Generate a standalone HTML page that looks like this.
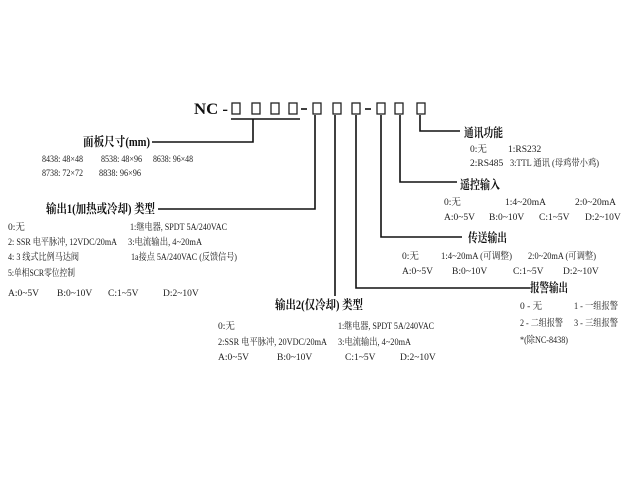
<!DOCTYPE html>
<html><head><meta charset="utf-8"><style>
html,body{margin:0;padding:0;background:#fff;width:640px;height:480px;overflow:hidden}
svg text{font-family:"Liberation Serif","Noto Serif CJK SC",serif;fill:#222;font-size:9.5px}
svg text.b{font-weight:bold;font-size:12.5px;fill:#111}
svg text.h{font-weight:bold;font-size:16px;fill:#111}
</style></head><body>
<svg width="640" height="480" viewBox="0 0 640 480" xmlns="http://www.w3.org/2000/svg">
<g fill="none" stroke="#222" stroke-width="1.3">
<rect x="232" y="103" width="8" height="11"/><rect x="252" y="103" width="8" height="11"/>
<rect x="271" y="103" width="8" height="11"/><rect x="289" y="103" width="8" height="11"/>
<rect x="313" y="103" width="8" height="11"/><rect x="333" y="103" width="8" height="11"/>
<rect x="352" y="103" width="8" height="11"/>
<rect x="377" y="103" width="8" height="11"/><rect x="395" y="103" width="8" height="11"/>
<rect x="417" y="103" width="8" height="11"/>
</g>
<g stroke="#111" stroke-width="1.6" fill="none">
<line x1="231" y1="119" x2="300" y2="119"/>
<line x1="301" y1="109" x2="307" y2="109"/><line x1="365" y1="109" x2="371" y2="109"/>
<polyline points="253,119 253,142 152,142"/>
<polyline points="315,115 315,209 158,209"/>
<polyline points="335,115 335,296"/>
<polyline points="356,115 356,288 530,288"/>
<polyline points="381,115 381,237 462,237"/>
<polyline points="400,115 400,182 457,182"/>
<polyline points="420,115 420,131 460,131"/>
</g>
<g lengthAdjust="spacingAndGlyphs">
<text class="h" x="194" y="114" textLength="34" lengthAdjust="spacingAndGlyphs">NC -</text>
<text class="b" x="83" y="146" textLength="67" lengthAdjust="spacingAndGlyphs">面板尺寸(mm)</text>
<text x="42" y="162" textLength="41" lengthAdjust="spacingAndGlyphs">8438: 48×48</text><text x="101" y="162" textLength="41" lengthAdjust="spacingAndGlyphs">8538: 48×96</text><text x="153" y="162" textLength="40" lengthAdjust="spacingAndGlyphs">8638: 96×48</text>
<text x="42" y="176" textLength="41" lengthAdjust="spacingAndGlyphs">8738: 72×72</text><text x="99" y="176" textLength="42" lengthAdjust="spacingAndGlyphs">8838: 96×96</text>
<text class="b" x="46" y="213" textLength="109" lengthAdjust="spacingAndGlyphs">输出1(加热或冷却) 类型</text>
<text x="8" y="230">0:无</text><text x="130" y="230" textLength="97" lengthAdjust="spacingAndGlyphs">1:继电器, SPDT 5A/240VAC</text>
<text x="8" y="245" textLength="109" lengthAdjust="spacingAndGlyphs">2: SSR 电平脉冲, 12VDC/20mA</text><text x="128" y="245" textLength="74" lengthAdjust="spacingAndGlyphs">3:电流输出, 4~20mA</text>
<text x="8" y="260" textLength="71" lengthAdjust="spacingAndGlyphs">4: 3 线式比例马达阀</text><text x="131" y="260" textLength="106" lengthAdjust="spacingAndGlyphs">1a接点 5A/240VAC (反馈信号)</text>
<text x="8" y="276" textLength="67" lengthAdjust="spacingAndGlyphs">5:单相SCR零位控制</text>
<text x="8" y="296">A:0~5V</text><text x="57" y="296">B:0~10V</text><text x="108" y="296">C:1~5V</text><text x="163" y="296">D:2~10V</text>
<text class="b" x="464" y="137" textLength="39" lengthAdjust="spacingAndGlyphs">通讯功能</text>
<text x="470" y="152">0:无</text><text x="508" y="152">1:RS232</text>
<text x="470" y="166">2:RS485</text><text x="510" y="166" textLength="89" lengthAdjust="spacingAndGlyphs">3:TTL 通讯 (母鸡带小鸡)</text>
<text class="b" x="460" y="189" textLength="40" lengthAdjust="spacingAndGlyphs">遥控输入</text>
<text x="444" y="205">0:无</text><text x="505" y="205">1:4~20mA</text><text x="575" y="205">2:0~20mA</text>
<text x="444" y="220">A:0~5V</text><text x="489" y="220">B:0~10V</text><text x="539" y="220">C:1~5V</text><text x="585" y="220">D:2~10V</text>
<text class="b" x="468" y="242" textLength="39" lengthAdjust="spacingAndGlyphs">传送输出</text>
<text x="402" y="259">0:无</text><text x="441" y="259" textLength="71" lengthAdjust="spacingAndGlyphs">1:4~20mA (可调整)</text><text x="528" y="259" textLength="68" lengthAdjust="spacingAndGlyphs">2:0~20mA (可调整)</text>
<text x="402" y="274">A:0~5V</text><text x="452" y="274">B:0~10V</text><text x="513" y="274">C:1~5V</text><text x="563" y="274">D:2~10V</text>
<text class="b" x="530" y="292" textLength="38" lengthAdjust="spacingAndGlyphs">报警输出</text>
<text x="520" y="309">0 - 无</text><text x="574" y="309" textLength="44" lengthAdjust="spacingAndGlyphs">1 - 一组报警</text>
<text x="520" y="326" textLength="43" lengthAdjust="spacingAndGlyphs">2 - 二组报警</text><text x="574" y="326" textLength="44" lengthAdjust="spacingAndGlyphs">3 - 三组报警</text>
<text x="520" y="343" textLength="48" lengthAdjust="spacingAndGlyphs">*(除NC-8438)</text>
<text class="b" x="275" y="309" textLength="88" lengthAdjust="spacingAndGlyphs">输出2(仅冷却) 类型</text>
<text x="218" y="329">0:无</text><text x="338" y="329" textLength="96" lengthAdjust="spacingAndGlyphs">1:继电器, SPDT 5A/240VAC</text>
<text x="218" y="345" textLength="109" lengthAdjust="spacingAndGlyphs">2:SSR 电平脉冲, 20VDC/20mA</text><text x="338" y="345" textLength="73" lengthAdjust="spacingAndGlyphs">3:电流输出, 4~20mA</text>
<text x="218" y="360">A:0~5V</text><text x="277" y="360">B:0~10V</text><text x="345" y="360">C:1~5V</text><text x="400" y="360">D:2~10V</text>
</g>
</svg>
</body></html>
